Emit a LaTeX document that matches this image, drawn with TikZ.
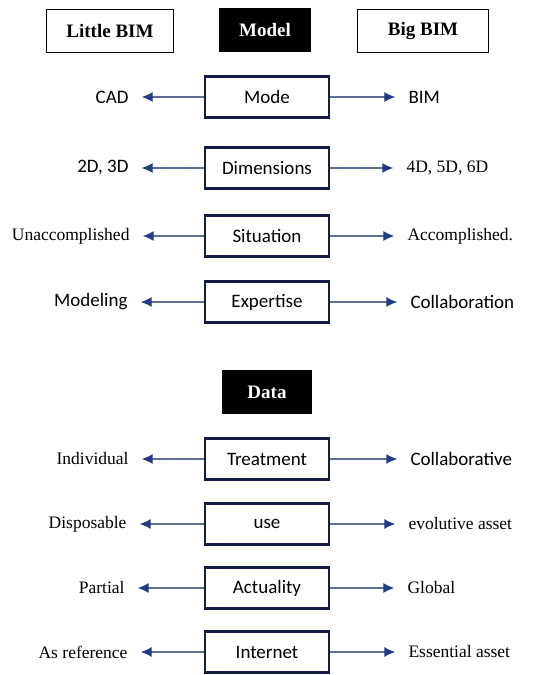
\documentclass[tikz,border=0pt]{standalone}
\usepackage{fontspec}
\setmainfont{Liberation Serif}
\newfontfamily\calib{Carlito}
\usepackage{tikz}
\usetikzlibrary{positioning, arrows.meta}

\definecolor{navy}{RGB}{20,28,70}
\definecolor{arrowblue}{RGB}{35,60,135}
\definecolor{linegrey}{RGB}{95,110,150}

\begin{document}
\begin{tikzpicture}[x=1pt, y=1pt,
    head/.style={draw=black, line width=1.8pt, minimum height=43pt, font=\fontsize{19}{22}\selectfont\bfseries},
    dark/.style={head, fill=black, text=white},
    crit/.style={draw=navy, line width=2.6pt, minimum width=124pt, minimum height=41pt, font=\fontsize{19}{22}\selectfont\calib},
    sans/.style={inner sep=0pt, font=\fontsize{19}{22}\selectfont\calib},
    serif/.style={inner sep=0pt, font=\fontsize{17.5}{21}\selectfont},
    link/.style={-{Latex[length=11pt, width=10pt, color=arrowblue]}, draw=linegrey, line width=1.1pt, shorten >=13pt}]
            \useasboundingbox (0,0) rectangle (534,-675);

            % headers
            \node[head, minimum width=127pt] (little) at (110,-31) {Little BIM};
            \node[dark, minimum width=91pt] (model) at (265,-30) {Model};
            \node[head, minimum width=131pt] (big) at (423,-31) {Big BIM};
            \node[dark, minimum width=89pt] (data) at (267,-392) {Data};

            % model criteria
            \node[crit] (mode) at (267,-97) {Mode};
            \node[sans, left=75pt of mode] (cad) {CAD};
            \node[sans, right=78pt of mode] (bim) {BIM};

            \node[crit] (dims) at (267,-168) {Dimensions};
            \node[sans, left=75pt of dims] (twod) {2D, 3D};
            \node[serif, right=76pt of dims] (fourd) {4D, 5D, 6D};

            \node[crit] (situ) at (267,-236) {Situation};
            \node[serif, left=74pt of situ] (unacc) {Unaccomplished};
            \node[serif, right=77pt of situ] (acc) {Accomplished.};

            \node[crit] (expert) at (267,-302) {Expertise};
            \node[sans, left=76pt of expert] (modeling) {Modeling};
            \node[sans, right=80pt of expert] (collab) {Collaboration};

            % data criteria
            \node[crit] (treat) at (267,-459) {Treatment};
            \node[serif, left=75pt of treat] (indiv) {Individual};
            \node[sans, right=80pt of treat] (collabv) {Collaborative};

            \node[crit] (use) at (267,-524) {use};
            \node[serif, left=77pt of use] (dispo) {Disposable};
            \node[serif, right=78pt of use] (evol) {evolutive asset};

            \node[crit] (actual) at (267,-588) {Actuality};
            \node[serif, left=79pt of actual] (partial) {Partial};
            \node[serif, right=77pt of actual] (global) {Global};

            \node[crit] (inet) at (267,-652) {Internet};
            \node[serif, left=76pt of inet] (asref) {As reference};
            \node[serif, right=78pt of inet] (essen) {Essential asset};

            \path[link]
            (mode) edge (cad)
            (mode) edge (bim)
            (dims) edge (twod)
            (dims) edge (fourd)
            (situ) edge (unacc)
            (situ) edge (acc)
            (expert) edge (modeling)
            (expert) edge (collab)
            (treat) edge (indiv)
            (treat) edge (collabv)
            (use) edge (dispo)
            (use) edge (evol)
            (actual) edge (partial)
            (actual) edge (global)
            (inet) edge (asref)
            (inet) edge (essen);

        \end{tikzpicture}
\end{document}
